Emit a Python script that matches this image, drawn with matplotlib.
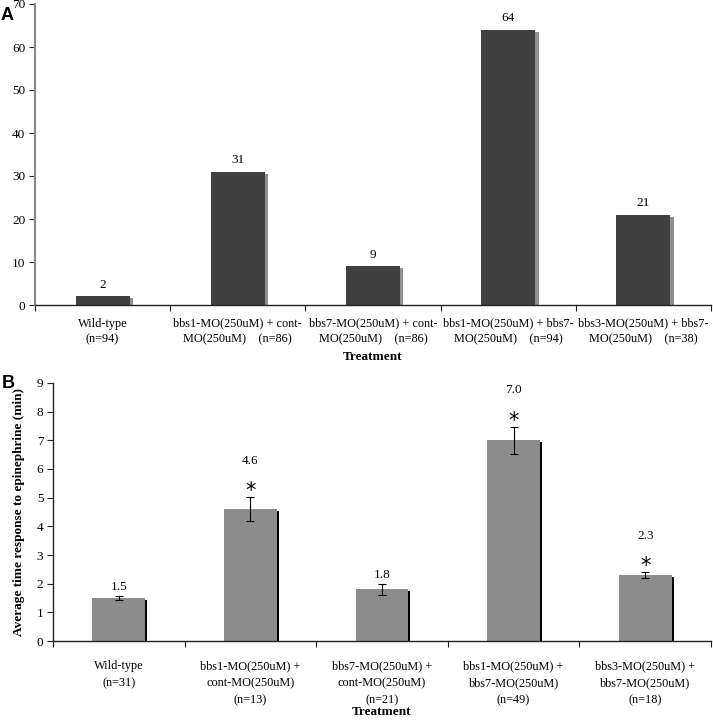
import numpy as np
import matplotlib
matplotlib.use('Agg')
import matplotlib.pyplot as plt
from matplotlib.ticker import FixedLocator, NullFormatter

plt.rcParams['font.family'] = ['Liberation Serif', 'DejaVu Serif']

# Panel A data
labels_a = ['Wild-type\n(n=94)',
            'bbs1-MO(250uM) + cont-\nMO(250uM)    (n=86)',
            'bbs7-MO(250uM) + cont-\nMO(250uM)    (n=86)',
            'bbs1-MO(250uM) + bbs7-\nMO(250uM)    (n=94)',
            'bbs3-MO(250uM) + bbs7-\nMO(250uM)    (n=38)']
values_a = [2, 31, 9, 64, 21]

# Panel B data
labels_b = ['Wild-type\n(n=31)',
            'bbs1-MO(250uM) +\ncont-MO(250uM)\n(n=13)',
            'bbs7-MO(250uM) +\ncont-MO(250uM)\n(n=21)',
            'bbs1-MO(250uM) +\nbbs7-MO(250uM)\n(n=49)',
            'bbs3-MO(250uM) +\nbbs7-MO(250uM)\n(n=18)']
values_b = [1.5, 4.6, 1.8, 7.0, 2.3]
errors_b = [0.07, 0.42, 0.2, 0.47, 0.1]
starred_b = [False, True, False, True, True]
value_text_b = ['1.5', '4.6', '1.8', '7.0', '2.3']

FS = 9.5
XFS = 8.8
fig = plt.figure(figsize=(7.13, 7.2), dpi=100)


def style_axes(ax, n, left_color, left_lw):
    for s in ['top', 'right']:
        ax.spines[s].set_visible(False)
    ax.spines['left'].set_color(left_color)
    ax.spines['left'].set_linewidth(left_lw)
    ax.spines['bottom'].set_color('#222222')
    ax.spines['bottom'].set_linewidth(1.0)
    ax.set_xlim(-0.5, n - 0.5)
    # boundary ticks (major) and centred labels (minor)
    ax.xaxis.set_major_locator(FixedLocator(np.arange(n + 1) - 0.5))
    ax.xaxis.set_major_formatter(NullFormatter())
    ax.tick_params(axis='x', which='major', direction='out', length=4, width=0.8, color='#222222')
    ax.tick_params(axis='x', which='minor', length=0, labelsize=XFS)
    ax.tick_params(axis='y', direction='out', length=4, width=0.8, pad=3, labelsize=FS, color='#222222')


# ---- Panel A ----
ax1 = fig.add_axes([35 / 713, 1 - 305 / 720, 676 / 713, 301 / 720])
x = np.arange(len(values_a))
ax1.bar(x + 0.025, np.array(values_a) - 0.45, width=0.4, color='#8f8f8f', zorder=1)
ax1.bar(x, values_a, width=0.4, color='#404040', zorder=2)
for xi, v in zip(x, values_a):
    ax1.annotate(str(v), (xi, v), xytext=(0, 4), textcoords='offset points',
                 ha='center', va='bottom', fontsize=FS)
ax1.set_ylim(0, 70)
ax1.set_yticks(range(0, 71, 10))
style_axes(ax1, len(values_a), '#8a8a8a', 1.6)
ax1.set_xticks(x, minor=True)
ax1.set_xticklabels(labels_a, minor=True, linespacing=1.45)
ax1.tick_params(axis='x', which='minor', pad=9)
ax1.set_xlabel('Treatment', fontweight='bold', fontsize=FS, labelpad=4)

# ---- Panel B ----
ax2 = fig.add_axes([53 / 713, 1 - 641 / 720, 658 / 713, 258 / 720])
x = np.arange(len(values_b))
ax2.bar(x + 0.016, np.array(values_b) - 0.07, width=0.4, color='black', zorder=1)
ax2.bar(x, values_b, width=0.4, color='#8c8c8c', zorder=2)
ax2.errorbar(x, values_b, yerr=errors_b, fmt='none', ecolor='black',
             elinewidth=0.8, capsize=3, capthick=0.8, zorder=3)
for xi, v, e, st, t in zip(x, values_b, errors_b, starred_b, value_text_b):
    top = v + e
    if st:
        ax2.annotate('*', (xi, top), xytext=(0, -3), textcoords='offset points',
                     ha='center', va='bottom', fontsize=15, fontfamily='DejaVu Sans')
        ax2.annotate(t, (xi, top), xytext=(0, 22), textcoords='offset points',
                     ha='center', va='bottom', fontsize=FS)
    else:
        ax2.annotate(t, (xi, top), xytext=(0, 2), textcoords='offset points',
                     ha='center', va='bottom', fontsize=FS)
ax2.set_ylim(0, 9)
ax2.set_yticks(range(0, 10))
style_axes(ax2, len(values_b), '#222222', 1.0)
ax2.set_xticks(x, minor=True)
ax2.set_xticklabels(labels_b, minor=True, linespacing=1.55)
ax2.tick_params(axis='x', which='minor', pad=14)
ax2.set_xlabel('Treatment', fontweight='bold', fontsize=FS, labelpad=0)
ax2.set_ylabel('Average time response to epinephrine (min)', fontweight='bold', fontsize=FS, labelpad=8)

fig.text(1 / 713, 1 - 15 / 720, 'A', fontsize=13, fontweight='bold', family='Liberation Sans', va='center')
fig.text(2 / 713, 1 - 384 / 720, 'B', fontsize=13, fontweight='bold', family='Liberation Sans', va='center')

fig.savefig('out.png', dpi=100)
